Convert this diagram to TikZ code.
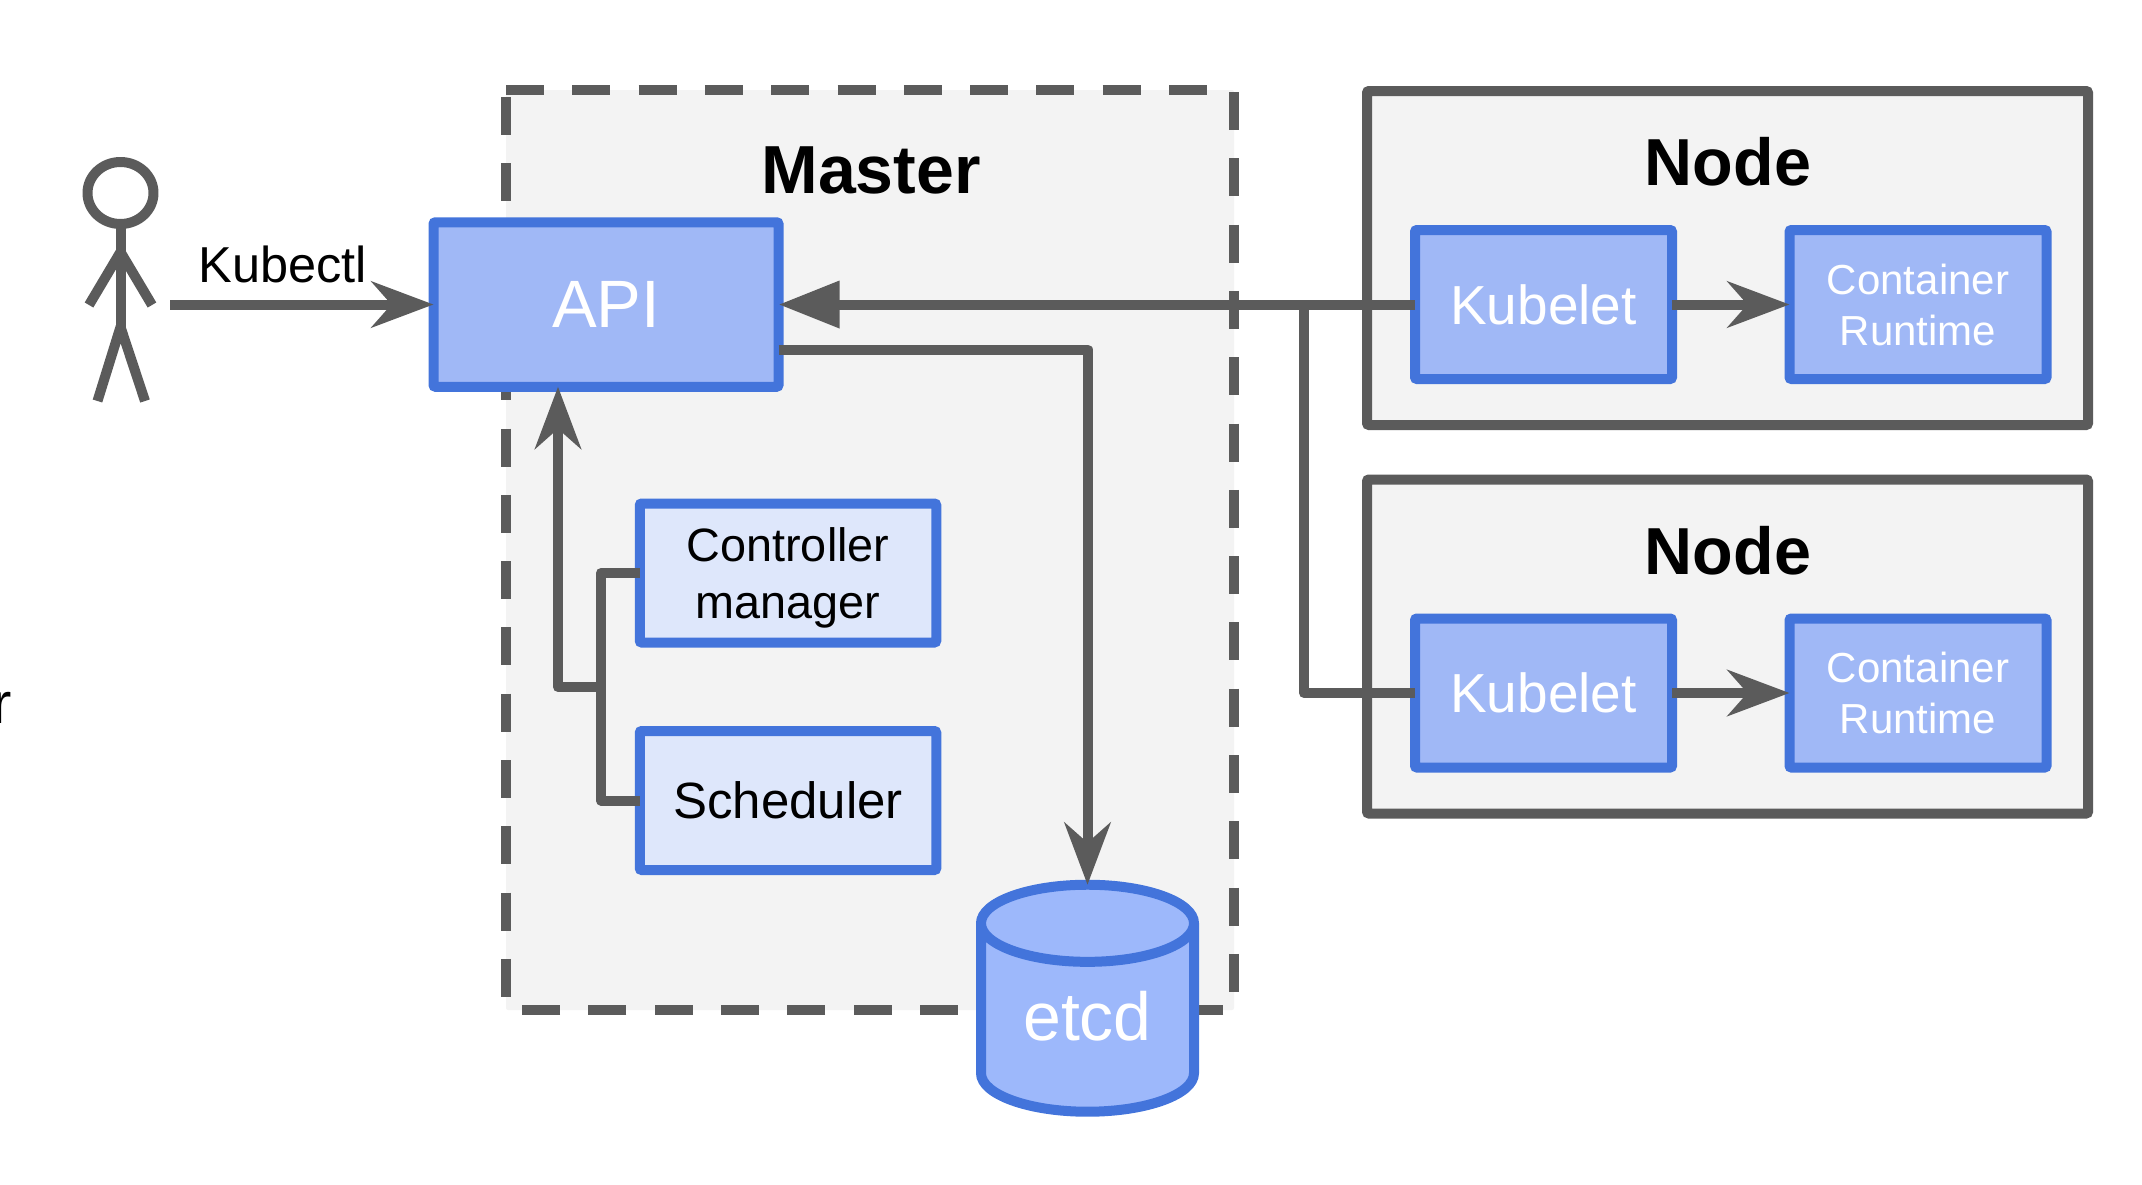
\documentclass[tikz,border=0pt]{standalone}
\usepackage{fontspec}
\setmainfont{Liberation Sans}
\usetikzlibrary{arrows.meta,shapes.geometric}
\definecolor{linegrey}{HTML}{5B5B5B}
\definecolor{panelgrey}{HTML}{F3F3F3}
\definecolor{edgeblue}{HTML}{4374DB}
\definecolor{midblue}{HTML}{A0B8F6}
\definecolor{canblue}{HTML}{9DB8FB}
\definecolor{paleblue}{HTML}{DEE7FB}
\newcommand{\fsize}[2]{\fontsize{#1}{#2}\selectfont}
\tikzset{
  boxnode/.style={draw=edgeblue, line width=10pt, rounded corners=2pt, inner sep=0pt, outer sep=0pt, align=center, text depth=0pt},
  midbox/.style={boxnode, fill=midblue, text=white},
  palebox/.style={boxnode, fill=paleblue, text=black, minimum width=296.5pt, minimum height=139pt},
  kubebox/.style={midbox, minimum width=257pt, minimum height=149pt, font=\fsize{55}{55}},
  runbox/.style={midbox, minimum width=257pt, minimum height=149pt, font=\fsize{42}{51}},
  panel/.style={draw=linegrey, fill=panelgrey, line width=10pt, rounded corners=2pt, inner sep=0pt, outer sep=0pt},
  title/.style={font=\fsize{66.5}{66.5}\bfseries, text=black, inner sep=0pt},
  wire/.style={draw=linegrey, line width=10pt, line join=round},
  dashside/.style={draw=linegrey, line width=10pt, dash pattern=on 38pt off 28.3pt},
  notched/.style={wire, -{Stealth[length=62pt, width=46pt, inset=20pt]}},
  solidtip/.style={wire, -{Triangle[length=61pt, width=45pt]}},
}
\begin{document}
\begin{tikzpicture}[x=1pt, y=1pt]
  \useasboundingbox (0, 0) rectangle (2142, -1184);
  \node (cutoff) [anchor=base west, inner sep=0pt, font=\fsize{58}{58}] at (-7.5, -723) {r};

  % user
  \draw [wire] (120.5, -193) ellipse (33 and 31);
  \draw [wire, line cap=butt] (120.5, -224) -- (120.5, -328);
  \draw [wire] (89, -305) -- (120.5, -252) -- (152, -305);
  \draw [wire] (97.5, -401) -- (120.5, -327) -- (145, -401);
  \coordinate (user) at (170, -304.5);
  \node (kubectl) [anchor=base, inner sep=0pt, font=\fsize{50.5}{50.5}] at (283, -282) {Kubectl};

  % master
  \fill [panelgrey, rounded corners=2pt] (506, -90) rectangle (1234, -1010);
  \draw [dashside] (506, -90) -- (1234, -90);
  \draw [dashside] (1234, -92) -- (1234, -1010);
  \draw [dashside] (1223, -1010) -- (506, -1010);
  \draw [dashside] (506, -97) -- (506, -1010);
  \node (master) [title, font=\fsize{68}{68}\bfseries] at (871, -170) {Master};
  \node (api) [midbox, minimum width=345pt, minimum height=164.5pt, font=\fsize{67}{67}] at (606, -304.5) {API};
  \node (ctrl) [palebox, font=\fsize{46.8}{57}] at (788, -573) {Controller\\manager};
  \node (sched) [palebox, font=\fsize{51}{51}] at (788, -800.5) {Scheduler};
  \node (etcd) [cylinder, shape border rotate=90, shape aspect=0.6, draw=edgeblue, fill=canblue, line width=10pt, inner sep=0pt, outer sep=0pt, minimum width=213pt, minimum height=227pt, text=white, text depth=8pt, font=\fsize{68}{68}] at (1087.5, -1020) {etcd};

  % nodes
  \foreach \name/\ypos in {one/0, two/388.5} {
    \node (node\name) [panel, minimum width=721pt, minimum height=334pt] at (1727.5, -258-\ypos) {};
    \node (title\name) [title] at (1728, -162-\ypos) {Node};
    \node (kubelet\name) [kubebox] at (1543.5, -304.5-\ypos) {Kubelet};
    \node (runtime\name) [runbox] at (1918, -304.5-\ypos) {Container\\Runtime};
  }

  % connectors
  \draw [notched] (user) -- (api.west);
  \draw [solidtip] (kubeletone.west) -- (api.east);
  \draw [notched] ([yshift=-45pt]api.east) -| (etcd.north);
  \coordinate (branch) at (1304, -304.5);
  \draw [wire] (branch) |- (kubelettwo.west);
  \draw [notched] (kubeletone.east) -- (runtimeone.west);
  \draw [notched] (kubelettwo.east) -- (runtimetwo.west);
  \coordinate (joinright) at (601, -687);
  \coordinate (joinleft) at (558, -687);
  \draw [wire] (ctrl.west) -| (joinright) |- (sched.west);
  \draw [notched] (joinright) -- (joinleft) -- (joinleft |- api.south);
\end{tikzpicture}
\end{document}
